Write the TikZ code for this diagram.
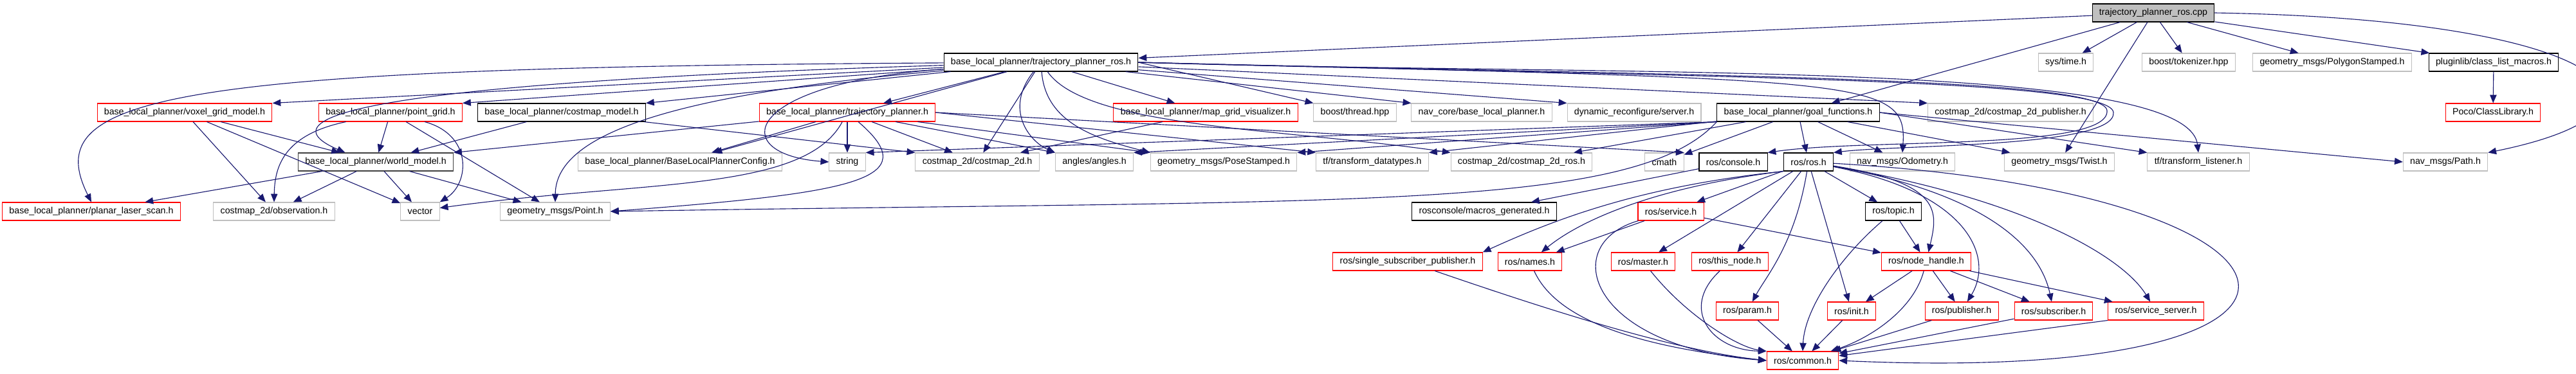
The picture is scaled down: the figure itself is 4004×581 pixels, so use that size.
\documentclass[tikz,border=0pt]{standalone}
\usepackage{fontspec}
\setmainfont{Liberation Sans}
\usepackage{tikz}
\usetikzlibrary{arrows.meta}

\definecolor{edgeblue}{HTML}{191970}
\definecolor{extgray}{HTML}{BFBFBF}

\begin{document}
\begin{tikzpicture}[
    x=0.025cm, y=-0.025cm,
    every node/.style={draw, minimum height=0.7cm, inner xsep=0.27cm, inner ysep=0pt, line width=0.75pt, font=\fontsize{10.1}{12}\selectfont},
    docfile/.style={draw=black},
    extfile/.style={draw=extgray},
    cutfile/.style={draw=red},
    rootfile/.style={draw=black, fill=extgray},
    link/.style={-{Triangle[length=0.32cm, width=0.26cm]}, draw=edgeblue, line width=0.8pt}
]
\useasboundingbox (0,0) rectangle (4004,581);

\node[rootfile] (root_cpp) at (3347,20) {trajectory\_planner\_ros.cpp};

\node[docfile] (tp_ros) at (1618,97) {base\_local\_planner/trajectory\_planner\_ros.h};
\node[extfile] (sys_time) at (3211,97) {sys/time.h};
\node[extfile] (tokenizer) at (3402,97) {boost/tokenizer.hpp};
\node[extfile] (polygon_st) at (3625,97) {geometry\_msgs/PolygonStamped.h};
\node[docfile] (class_list) at (3876,97) {pluginlib/class\_list\_macros.h};

\node[cutfile] (voxel_grid) at (287,175) {base\_local\_planner/voxel\_grid\_model.h};
\node[cutfile] (point_grid) at (607,175) {base\_local\_planner/point\_grid.h};
\node[docfile] (costmap_model) at (873,175) {base\_local\_planner/costmap\_model.h};
\node[cutfile] (traj_planner) at (1317,175) {base\_local\_planner/trajectory\_planner.h};
\node[cutfile] (map_grid_vis) at (1874,175) {base\_local\_planner/map\_grid\_visualizer.h};
\node[extfile] (boost_thread) at (2106,175) {boost/thread.hpp};
\node[extfile] (nav_core) at (2303,175) {nav\_core/base\_local\_planner.h};
\node[extfile] (dyn_reconf) at (2540,175) {dynamic\_reconfigure/server.h};
\node[docfile] (goal_fn) at (2795,175) {base\_local\_planner/goal\_functions.h};
\node[extfile] (cm_publisher) at (3125,175) {costmap\_2d/costmap\_2d\_publisher.h};
\node[cutfile] (poco_lib) at (3875,175) {Poco/ClassLibrary.h};

\node[docfile, draw=black!75] (world_model) at (584,252) {base\_local\_planner/world\_model.h};
\node[extfile] (planner_config) at (1057,252) {base\_local\_planner/BaseLocalPlannerConfig.h};
\node[extfile] (std_string) at (1317,252) {string};
\node[extfile] (costmap_2d) at (1519,252) {costmap\_2d/costmap\_2d.h};
\node[extfile] (angles) at (1701,252) {angles/angles.h};
\node[extfile] (pose_st) at (1902,252) {geometry\_msgs/PoseStamped.h};
\node[extfile] (tf_datatypes) at (2133,252) {tf/transform\_datatypes.h};
\node[extfile] (costmap_ros) at (2365,252) {costmap\_2d/costmap\_2d\_ros.h};
\node[extfile] (cmath) at (2587,252) {cmath};
\node[docfile] (ros_console) at (2694,252) {ros/console.h};
\node[docfile] (ros_ros) at (2811,252) {ros/ros.h};
\node[extfile] (odometry) at (2957,252) {nav\_msgs/Odometry.h};
\node[extfile] (twist) at (3201,252) {geometry\_msgs/Twist.h};
\node[extfile] (tf_listener) at (3417,252) {tf/transform\_listener.h};
\node[extfile] (nav_path) at (3801,252) {nav\_msgs/Path.h};

\node[cutfile] (laser_scan) at (142,329) {base\_local\_planner/planar\_laser\_scan.h};
\node[extfile] (observation) at (426,329) {costmap\_2d/observation.h};
\node[extfile] (std_vector) at (653,329) {vector};
\node[extfile] (point_msg) at (863,329) {geometry\_msgs/Point.h};
\node[docfile] (macros_gen) at (2307,329) {rosconsole/macros\_generated.h};
\node[cutfile] (ros_service) at (2597,329) {ros/service.h};
\node[docfile] (ros_topic) at (2943,329) {ros/topic.h};

\node[cutfile] (single_sub) at (2188,407) {ros/single\_subscriber\_publisher.h};
\node[cutfile] (ros_names) at (2378,407) {ros/names.h};
\node[cutfile] (ros_master) at (2554,407) {ros/master.h};
\node[cutfile] (this_node) at (2689,407) {ros/this\_node.h};
\node[cutfile] (node_handle) at (2994,407) {ros/node\_handle.h};

\node[cutfile] (ros_param) at (2716,484) {ros/param.h};
\node[cutfile] (ros_init) at (2878,484) {ros/init.h};
\node[cutfile] (ros_publisher) at (3049,484) {ros/publisher.h};
\node[cutfile] (ros_subscriber) at (3192,484) {ros/subscriber.h};
\node[cutfile] (service_server) at (3351,484) {ros/service\_server.h};

\node[cutfile] (ros_common) at (2802,561) {ros/common.h};

% includes of the source file
\draw[link] (root_cpp) -- (tp_ros);
\draw[link] (root_cpp) -- (sys_time);
\draw[link] (root_cpp) -- (tokenizer);
\draw[link] (root_cpp) -- (polygon_st);
\draw[link] (root_cpp) -- (class_list);
\draw[link] (root_cpp) -- (goal_fn);
\draw[link] (root_cpp) -- (twist);
\draw[link] (root_cpp.east) .. controls (4060,30) and (4200,170) .. (nav_path.north east);
\draw[link] (class_list) -- (poco_lib);

% trajectory_planner_ros.h
\draw[link] (tp_ros) -- (voxel_grid.north east);
\draw[link] (tp_ros) -- (point_grid.north east);
\draw[link] (tp_ros) -- (costmap_model.north east);
\draw[link] (tp_ros) -- (traj_planner);
\draw[link] (tp_ros) .. controls (700,125) and (380,170) .. (world_model.163);
\draw[link] (tp_ros) .. controls (250,105) and (60,150) .. (laser_scan.north);
\draw[link] (tp_ros) -- (planner_config);
\draw[link] (tp_ros) .. controls (1150,130) and (1130,240) .. (std_string.west);
\draw[link] (tp_ros) .. controls (1000,150) and (864,220) .. (point_msg.north);
\draw[link] (tp_ros) -- (costmap_2d);
\draw[link] (tp_ros) .. controls (1560,170) and (1600,220) .. (angles.north west);
\draw[link] (tp_ros) .. controls (1625,190) and (1700,215) .. (pose_st.north west);
\draw[link] (tp_ros) .. controls (1690,200) and (2000,200) .. (costmap_ros.north west);
\draw[link] (tp_ros) -- (map_grid_vis);
\draw[link] (tp_ros.east) -- (boost_thread.north west);
\draw[link] (tp_ros) -- (nav_core.north west);
\draw[link] (tp_ros) -- (dyn_reconf.north west);
\draw[link] (tp_ros) -- (cm_publisher.north west);
\draw[link] (tp_ros.east) .. controls (2900,125) and (2965,120) .. (odometry.north);
\draw[link] (tp_ros.east) .. controls (2500,120) and (3400,90) .. (tf_listener.north);
\draw[link] (tp_ros.east) .. controls (2600,120) and (3280,120) .. (3285,175) .. controls (3290,230) and (2950,225) .. (ros_ros.north east);
\draw[link] (tp_ros.east) .. controls (2600,118) and (3270,118) .. (3275,172) .. controls (3280,235) and (2900,215) .. (ros_console.north east);

% trajectory_planner.h
\draw[link] (traj_planner) -- (world_model.north east);
\draw[link] (traj_planner) -- (planner_config);
\draw[link] (traj_planner) -- (std_string);
\draw[link] (traj_planner) .. controls (1250,300) and (1000,280) .. (std_vector.10);
\draw[link] (traj_planner) .. controls (1440,280) and (1330,300) .. (point_msg.east);
\draw[link] (traj_planner) -- (costmap_2d);
\draw[link] (traj_planner) -- (angles.north west);
\draw[link] (traj_planner) -- (pose_st.north west);
\draw[link] (traj_planner.east) -- (tf_datatypes.north west);
\draw[link] (traj_planner.east) -- (cmath.north east);

\draw[link] (costmap_model) -- (world_model);
\draw[link] (costmap_model) -- (costmap_2d.north west);
\draw[link] (point_grid) -- (world_model);
\draw[link] (point_grid) .. controls (440,210) and (427,260) .. (observation.north);
\draw[link] (point_grid) .. controls (735,210) and (730,285) .. (std_vector.north east);
\draw[link] (point_grid) -- (point_msg);
\draw[link] (voxel_grid) -- (world_model);
\draw[link] (voxel_grid) -- (observation);
\draw[link] (voxel_grid) -- (std_vector);
\draw[link] (world_model) -- (laser_scan);
\draw[link] (world_model) -- (observation);
\draw[link] (world_model) -- (std_vector);
\draw[link] (world_model) -- (point_msg);
\draw[link] (map_grid_vis) -- (costmap_2d);

% goal_functions.h
\draw[link] (goal_fn) -- (ros_ros);
\draw[link] (goal_fn) -- (odometry);
\draw[link] (goal_fn) -- (twist);
\draw[link] (goal_fn.east) -- (nav_path.west);
\draw[link] (goal_fn.east) -- (tf_listener.north west);
\draw[link] (goal_fn) -- (costmap_ros);
\draw[link] (goal_fn) -- (cmath);
\draw[link] (goal_fn) -- (tf_datatypes.north east);
\draw[link] (goal_fn.south west) -- (pose_st.north east);
\draw[link] (goal_fn.south west) -- (angles.north east);
\draw[link] (goal_fn.south west) -- (std_string.north east);
\draw[link] (goal_fn.south west) .. controls (2540,330) and (2100,310) .. (point_msg.east);

\draw[link] (ros_console) -- (macros_gen);

% ros/ros.h
\draw[link] (ros_ros) -- (ros_service);
\draw[link] (ros_ros.south west) .. controls (2550,290) and (2420,340) .. (single_sub.north east);
\draw[link] (ros_ros.south west) .. controls (2580,290) and (2460,340) .. (ros_names);
\draw[link] (ros_ros) -- (ros_master);
\draw[link] (ros_ros) -- (this_node);
\draw[link] (ros_ros) .. controls (2790,380) and (2745,430) .. (ros_param);
\draw[link] (ros_ros) -- (ros_init);
\draw[link] (ros_ros) -- (ros_topic);
\draw[link] (ros_ros) .. controls (3020,285) and (3012,330) .. (node_handle);
\draw[link] (ros_ros) .. controls (3060,300) and (3100,400) .. (ros_publisher);
\draw[link] (ros_ros) .. controls (3080,300) and (3170,380) .. (ros_subscriber);
\draw[link] (ros_ros) .. controls (3150,310) and (3300,400) .. (service_server);
\draw[link] (ros_ros) .. controls (3650,300) and (3720,600) .. (ros_common.east);

\draw[link] (ros_service) -- (ros_names);
\draw[link] (ros_service) .. controls (2420,380) and (2470,540) .. (ros_common.west);
\draw[link] (ros_service) -- (node_handle);
\draw[link] (ros_names) .. controls (2420,500) and (2550,540) .. (ros_common.west);
\draw[link] (single_sub) .. controls (2400,480) and (2600,545) .. (ros_common.west);
\draw[link] (ros_master) .. controls (2620,490) and (2700,540) .. (ros_common.north west);
\draw[link] (this_node) .. controls (2610,480) and (2660,545) .. (ros_common.north west);
\draw[link] (ros_topic) -- (node_handle);
\draw[link] (ros_topic) .. controls (2860,400) and (2805,480) .. (ros_common.north);
\draw[link] (ros_param) -- (ros_common);
\draw[link] (ros_init) -- (ros_common);

% ros/node_handle.h
\draw[link] (node_handle) -- (ros_init);
\draw[link] (node_handle) .. controls (2975,480) and (2910,525) .. (ros_common);
\draw[link] (node_handle) -- (ros_publisher);
\draw[link] (node_handle) -- (ros_subscriber);
\draw[link] (node_handle) -- (service_server);
\draw[link] (ros_publisher) -- (ros_common);
\draw[link] (ros_subscriber) -- (ros_common);
\draw[link] (service_server.south west) -- (ros_common);

\end{tikzpicture}
\end{document}
